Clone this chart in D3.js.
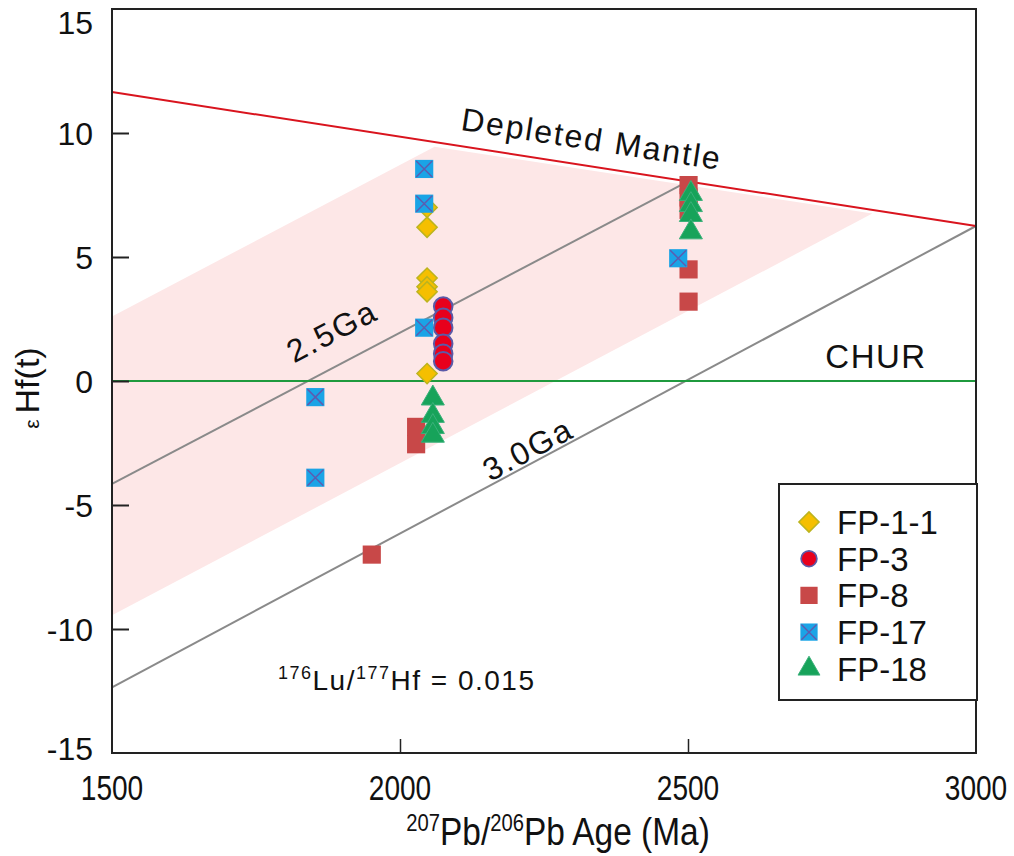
<!DOCTYPE html>
<meta charset="utf-8">
<style>
body { margin: 0; background: #fff; }
svg text { font-family: "Liberation Sans", Arial, sans-serif; fill: #111; }
</style>
<body>
<div id="chart"></div>
<script src="https://d3js.org/d3.v7.min.js"></script>
<script>

// sample data: [age Ma, eHf(t)]
var fp11 = [[2047, 7.0], [2047, 6.2], [2047, 4.15], [2047, 3.8], [2047, 3.6], [2047, 0.3]];
var fp3 = [[2075, 3.0], [2075, 2.55], [2075, 2.15], [2075, 1.5], [2075, 1.1], [2075, 0.8]];
var fp8 = [[2028, -1.85], [2028, -2.55], [1951, -7.0], [2501, 7.9], [2501, 7.4], [2501, 6.9], [2501, 4.5], [2501, 3.2]];
var fp17 = [[2042, 8.55], [2042, 7.15], [2042, 2.15], [1853, -0.65], [1853, -3.9], [2483, 4.95]];
var fp18 = [[2057, -0.7], [2057, -1.4], [2057, -1.85], [2057, -2.2], [2505, 7.55], [2505, 7.1], [2505, 6.7], [2505, 6.0]];

// reference lines and field
var dmLine = [[1500, 11.65], [3000, 6.25]];
var ga25 = [[1500, -4.15], [2500, 8.05]];
var ga30 = [[1500, -12.35], [3000, 6.25]];
var chur = [[1500, 0], [3000, 0]];
var band = [[1500, 2.6], [2060, 9.45], [2820, 6.75], [1500, -9.45]];

var xTicks = [1500, 2000, 2500, 3000];
var yTicks = [-15, -10, -5, 0, 5, 10, 15];

var width = 1014, height = 856;
var mLeft = 112, mRight = 976, mTop = 9, mBottom = 753;

var x = d3.scaleLinear().domain([1500, 3000]).range([mLeft, mRight]);
var y = d3.scaleLinear().domain([-15, 15]).range([mBottom, mTop]);

var svg = d3.select("#chart").append("svg")
    .attr("width", width)
    .attr("height", height);

var line = d3.line().x(function(d) { return x(d[0]); }).y(function(d) { return y(d[1]); });

svg.append("path")
    .attr("d", line(band) + "Z")
    .attr("fill", "#fde7e7");

svg.append("path").attr("d", line(ga25)).attr("stroke", "#8a8a8a").attr("stroke-width", 2).attr("fill", "none");
svg.append("path").attr("d", line(ga30)).attr("stroke", "#8a8a8a").attr("stroke-width", 2).attr("fill", "none");
svg.append("path").attr("d", line(chur)).attr("stroke", "#1f9a3e").attr("stroke-width", 2).attr("fill", "none");
svg.append("path").attr("d", line(dmLine)).attr("stroke", "#d9141e").attr("stroke-width", 2).attr("fill", "none");

// frame
svg.append("rect")
    .attr("x", mLeft).attr("y", mTop)
    .attr("width", mRight - mLeft).attr("height", mBottom - mTop)
    .attr("fill", "none").attr("stroke", "#222").attr("stroke-width", 2);

// ticks (inward)
var yAxis = d3.axisRight(y).tickValues([-10, -5, 0, 5, 10]).tickSize(17).tickFormat("");
svg.append("g").attr("transform", "translate(" + mLeft + ",0)").call(yAxis)
  .call(function(g) { g.select(".domain").remove(); g.selectAll("line").attr("stroke", "#222").attr("stroke-width", 2); });

var xAxis = d3.axisTop(x).tickValues([2000, 2500]).tickSize(14).tickFormat("");
svg.append("g").attr("transform", "translate(0," + mBottom + ")").call(xAxis)
  .call(function(g) { g.select(".domain").remove(); g.selectAll("line").attr("stroke", "#222").attr("stroke-width", 1.5); });

// tick labels
svg.selectAll(".ylab").data(yTicks).enter().append("text")
    .attr("x", mLeft - 19)
    .attr("y", function(d) { return d === 15 ? y(d) + 13 : (d === -15 ? y(d) - 5 : y(d)); })
    .attr("dy", "0.36em")
    .attr("text-anchor", "end")
    .attr("font-size", 32)
    .text(function(d) { return d; });

// x labels use a narrow face in the original: squeeze horizontally
svg.selectAll(".xlab").data(xTicks).enter().append("text")
    .attr("transform", function(d) { return "translate(" + x(d) + ",800) scale(0.78,1)"; })
    .attr("text-anchor", "middle")
    .attr("font-size", 36)
    .text(function(d) { return d; });

// axis titles
var xt = svg.append("text")
    .attr("transform", "translate(558,845) scale(0.88,1)")
    .attr("text-anchor", "middle").attr("font-size", 38);
xt.append("tspan").attr("font-size", 23).attr("dy", -14).text("207");
xt.append("tspan").attr("dy", 14).text("Pb/");
xt.append("tspan").attr("font-size", 23).attr("dy", -14).text("206");
xt.append("tspan").attr("dy", 14).text("Pb Age (Ma)");

var yt = svg.append("text")
    .attr("transform", "translate(39,388) rotate(-90)")
    .attr("text-anchor", "middle").attr("font-size", 34);
yt.append("tspan").attr("font-size", 21).text("ε ");
yt.append("tspan").text("Hf(t)");

// line labels
function angleOf(seg) {
  return Math.atan2(y(seg[1][1]) - y(seg[0][1]), x(seg[1][0]) - x(seg[0][0])) * 180 / Math.PI;
}
svg.append("text")
    .attr("transform", "translate(590,150) rotate(" + angleOf(dmLine) + ")")
    .attr("text-anchor", "middle").attr("font-size", 32).attr("letter-spacing", 2).text("Depleted Mantle");
svg.append("text")
    .attr("transform", "translate(337,341) rotate(" + angleOf(ga25) + ")")
    .attr("text-anchor", "middle").attr("font-size", 32).attr("letter-spacing", 2).text("2.5Ga");
svg.append("text")
    .attr("transform", "translate(533,459) rotate(" + angleOf(ga30) + ")")
    .attr("text-anchor", "middle").attr("font-size", 32).attr("letter-spacing", 2).text("3.0Ga");
svg.append("text")
    .attr("x", 876).attr("y", 368).attr("text-anchor", "middle").attr("font-size", 33)
    .attr("letter-spacing", 1.5).text("CHUR");

var lu = svg.append("text").attr("x", 278).attr("y", 690).attr("font-size", 28).attr("letter-spacing", 1.5);
lu.append("tspan").attr("font-size", 18).attr("dy", -11).text("176");
lu.append("tspan").attr("dy", 11).text("Lu/");
lu.append("tspan").attr("font-size", 18).attr("dy", -11).text("177");
lu.append("tspan").attr("dy", 11).text("Hf = 0.015");

// symbols
var diamond = d3.symbol().type(d3.symbolDiamond2).size(260);
var circle = d3.symbol().type(d3.symbolCircle).size(270);
var square = d3.symbol().type(d3.symbolSquare).size(330);
var triangle = d3.symbol().type(d3.symbolTriangle).size(230);

var series = [
  { name: "FP-1-1", data: fp11, draw: function(g) {
      g.append("path").attr("d", diamond()).attr("fill", "#f5bf00").attr("stroke", "#bcb41e").attr("stroke-width", 1.5);
  } },
  { name: "FP-3", data: fp3, draw: function(g) {
      g.append("path").attr("d", circle()).attr("fill", "#e8001c").attr("stroke", "#5b5aa8").attr("stroke-width", 2);
  } },
  { name: "FP-8", data: fp8, draw: function(g) {
      g.append("path").attr("d", square()).attr("fill", "#c84848");
  } },
  { name: "FP-17", data: fp17, draw: function(g) {
      g.append("path").attr("d", square()).attr("fill", "#1aa4e6");
      g.append("path").attr("d", "M-8,-8L8,8M-8,8L8,-8").attr("stroke", "#5c5cb0").attr("stroke-width", 1.5);
  } },
  { name: "FP-18", data: fp18, draw: function(g) {
      g.append("path").attr("d", triangle()).attr("fill", "#17a35a").attr("stroke", "#3bb07a").attr("stroke-width", 1);
  } }
];

series.forEach(function(s) {
  svg.append("g").selectAll("g").data(s.data).enter().append("g")
      .attr("transform", function(d) { return "translate(" + x(d[0]) + "," + y(d[1]) + ")"; })
      .each(function() { s.draw(d3.select(this)); });
});

// legend
var legend = svg.append("g").attr("transform", "translate(779,484)");
legend.append("rect").attr("width", 198).attr("height", 216)
    .attr("fill", "#fff").attr("stroke", "#222").attr("stroke-width", 2);
var legScale = [1, 0.85, 0.95, 0.95, 0.95];
series.forEach(function(s, i) {
  var row = legend.append("g").attr("transform", "translate(0," + (38 + i * 36.7) + ")");
  var m = row.append("g").attr("transform", "translate(30,0) scale(" + legScale[i] + ")");
  s.draw(m);
  row.append("text").attr("x", 58).attr("y", 0).attr("dy", "0.36em")
      .attr("font-size", 33).text(s.name);
});

</script>
</body>
